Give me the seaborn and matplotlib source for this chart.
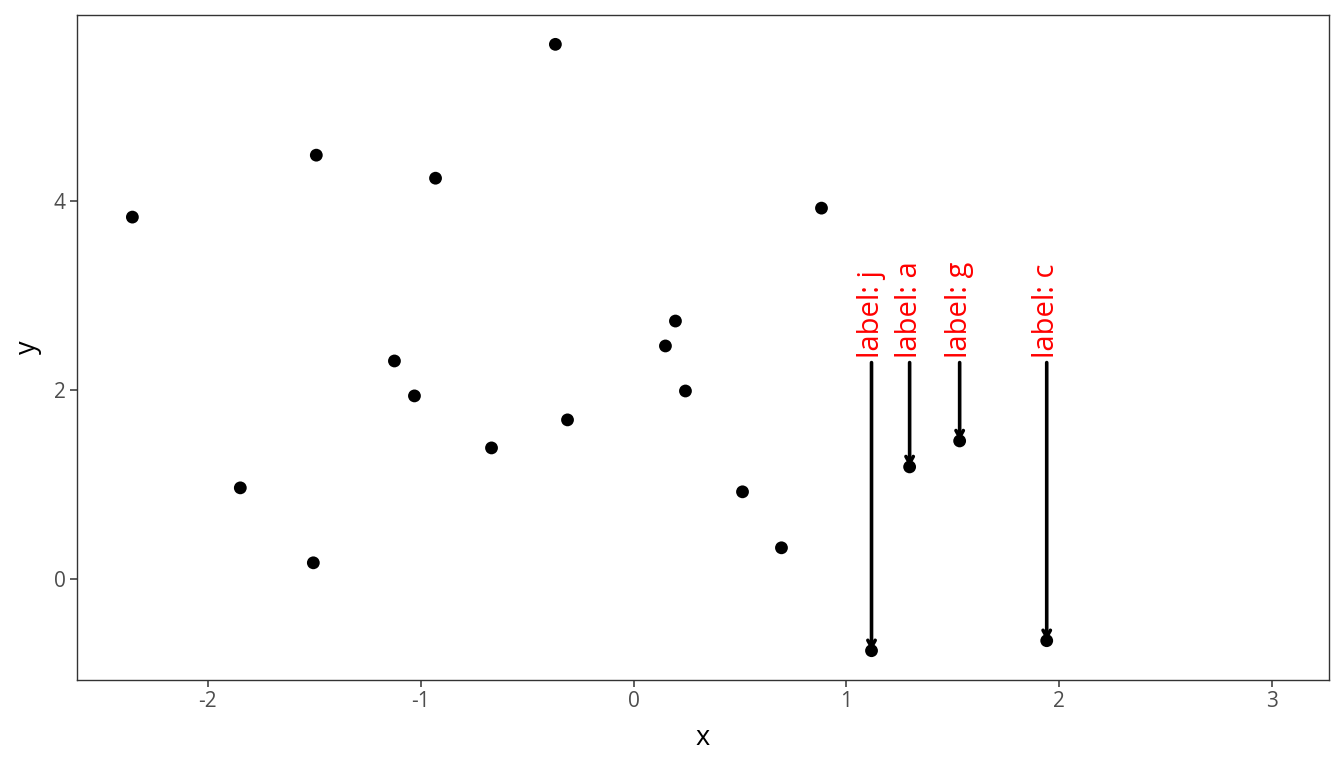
import matplotlib
matplotlib.use("Agg")
import matplotlib.pyplot as plt
import seaborn as sns
import pandas as pd

# point coordinates
x = [-2.354, -1.490, -0.930, -0.367, 0.883, -1.123, -1.029, -1.847, -1.504, -0.667,
     -0.310, 0.150, 0.197, 0.244, 0.512, 0.695, 1.118, 1.297, 1.532, 1.941]
y = [3.831, 4.487, 4.243, 5.661, 3.926, 2.307, 1.937, 0.963, 0.169, 1.386,
     1.683, 2.466, 2.730, 1.989, 0.921, 0.328, -0.762, 1.185, 1.460, -0.656]
names = ["p", "q", "r", "s", "t", "u", "v", "w", "x", "y",
         "z", "k", "l", "m", "n", "o", "j", "a", "g", "c"]
labelled = ["j", "a", "g", "c"]

df = pd.DataFrame({"x": x, "y": y, "name": names})

sns.set_theme(style="white")
plt.rcParams["font.family"] = ["Open Sans", "DejaVu Sans"]
plt.rcParams["axes.unicode_minus"] = False

fig, ax = plt.subplots(figsize=(13.44, 7.68), dpi=100)
fig.subplots_adjust(left=0.057, right=0.989, top=0.980, bottom=0.115)

sns.scatterplot(data=df, x="x", y="y", color="black", s=85, edgecolor="none", ax=ax, zorder=3)

label_y = 2.29
for _, row in df[df["name"].isin(labelled)].iterrows():
    ax.annotate("", xy=(row["x"], row["y"]), xytext=(row["x"], label_y),
                arrowprops=dict(arrowstyle="->,head_length=0.4,head_width=0.22",
                                color="black", lw=2.6, shrinkA=0, shrinkB=0))
    ax.text(row["x"], label_y + 0.05, f"label: {row['name']}", rotation=90,
            ha="center", va="bottom", color="red", fontsize=21)

ax.set_xlim(-2.616, 3.268)
ax.set_ylim(-1.069, 5.968)
ax.set_xticks([-2, -1, 0, 1, 2, 3])
ax.set_yticks([0, 2, 4])
ax.set_xlabel("x", fontsize=19.5, color="black", labelpad=9)
ax.set_ylabel("y", fontsize=19.5, color="black", labelpad=8)
ax.tick_params(axis="both", labelsize=15, labelcolor="#4D4D4D", color="#333333",
               length=5, width=1.1, pad=3, bottom=True, left=True)
for sp in ax.spines.values():
    sp.set_color("#333333")
    sp.set_linewidth(1)
ax.grid(False)

plt.savefig("out.png", dpi=100)
